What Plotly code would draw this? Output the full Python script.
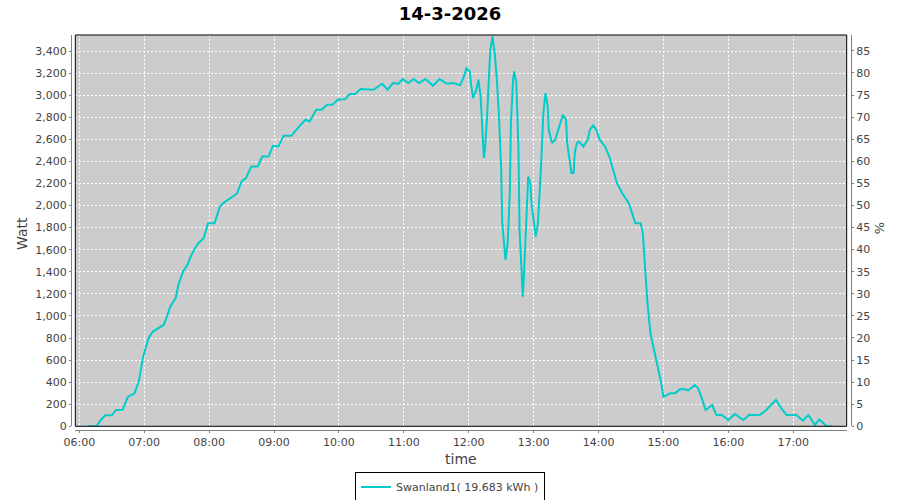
import plotly.graph_objects as go

DAY = "2026-03-14"
times = ["06:08", "06:16", "06:20", "06:24", "06:30", "06:34", "06:40", "06:45", "06:51", "06:55",
         "06:59", "07:04", "07:08", "07:18", "07:21", "07:24", "07:29", "07:32", "07:36", "07:40",
         "07:43", "07:46", "07:50", "07:55", "07:59", "08:05", "08:10", "08:13", "08:22", "08:26",
         "08:30", "08:34", "08:39", "08:45", "08:49", "08:55", "08:59", "09:04", "09:09", "09:16",
         "09:22", "09:29", "09:33", "09:39", "09:44", "09:49", "09:54", "09:59", "10:06", "10:10",
         "10:15", "10:20", "10:32", "10:40", "10:45", "10:50", "10:55", "10:59", "11:04", "11:09",
         "11:14", "11:20", "11:27", "11:33", "11:40", "11:46", "11:52", "11:55", "11:58", "12:01",
         "12:02", "12:04", "12:07", "12:09", "12:11", "12:13", "12:14", "12:15", "12:17", "12:19",
         "12:20", "12:22", "12:24", "12:26", "12:28", "12:30", "12:31", "12:34", "12:36", "12:38",
         "12:39", "12:41", "12:42", "12:44", "12:46", "12:47", "12:50", "12:51", "12:53", "12:55",
         "12:57", "12:58", "13:02", "13:04", "13:07", "13:09", "13:11", "13:13", "13:14", "13:17",
         "13:20", "13:23", "13:27", "13:30", "13:31", "13:35", "13:37", "13:38", "13:40", "13:42",
         "13:46", "13:50", "13:52", "13:55", "13:58", "14:01", "14:06", "14:10", "14:14", "14:17",
         "14:22", "14:28", "14:31", "14:34", "14:39", "14:41", "14:43", "14:45", "14:48", "14:51",
         "14:54", "14:58", "15:00", "15:03", "15:06", "15:11", "15:15", "15:20", "15:23", "15:29",
         "15:32", "15:36", "15:39", "15:45", "15:49", "15:54", "16:00", "16:06", "16:14", "16:19",
         "16:29", "16:35", "16:44", "16:49", "16:54", "17:03", "17:09", "17:14", "17:20", "17:24",
         "17:31", "17:36"]
watts = [0, 0, 60, 100, 100, 148, 150, 268, 298, 404,
         631, 798, 858, 918, 994, 1084, 1160, 1296, 1402, 1462,
         1538, 1598, 1659, 1704, 1840, 1840, 1991, 2022, 2082, 2112,
         2218, 2248, 2354, 2354, 2444, 2444, 2541, 2535, 2632, 2632,
         2702, 2777, 2762, 2868, 2868, 2913, 2913, 2958, 2964, 3010,
         3010, 3055, 3049, 3103, 3049, 3110, 3103, 3146, 3110, 3146,
         3110, 3146, 3085, 3146, 3103, 3110, 3090, 3155, 3245, 3215,
         3110, 2973, 3048, 3140, 2988, 2626, 2430, 2505, 2807, 3230,
         3411, 3532, 3381, 3140, 2807, 2324, 1841, 1508, 1659, 2112,
         2747, 3140, 3215, 3110, 2505, 1780, 1175, 1356, 1810, 2263,
         2203, 2022, 1719, 1840, 2384, 2837, 3019, 2898, 2686, 2566,
         2596, 2686, 2822, 2777, 2566, 2294, 2294, 2475, 2566, 2580,
         2535, 2596, 2686, 2725, 2686, 2596, 2535, 2444, 2294, 2203,
         2112, 2022, 1931, 1840, 1840, 1750, 1447, 1145, 843, 692,
         571, 390, 269, 280, 299, 299, 336, 336, 325, 374,
         345, 239, 148, 193, 102, 102, 57, 111, 57, 102,
         102, 148, 239, 163, 102, 102, 51, 102, 12, 63,
         0, 0]

series_name = "Swanland1( 19.683 kWh )"
title_text = "14-3-2026"
y_ticks = list(range(0, 3401, 200))
y2_ticks = list(range(0, 86, 5))

x_vals = [f"{DAY} {t}" for t in times]

W, H = 900, 500
ML, MR, MT, MB = 71, 49, 35, 70
PW, PH = W - ML - MR, H - MT - MB


def px(x):
    return (x - ML) / PW


def py(y):
    return (H - MB - y) / PH


fig = go.Figure()
fig.add_trace(go.Scatter(x=x_vals, y=watts, mode="lines", name=series_name,
                         line=dict(color="#00cccc", width=2), yaxis="y"))
fig.add_trace(go.Scatter(x=[x_vals[0]], y=[None], mode="lines", showlegend=False,
                         hoverinfo="skip", yaxis="y2"))

axis_font = dict(family="DejaVu Sans", size=11, color="#444444")

fig.update_layout(
    width=W, height=H,
    margin=dict(l=ML, r=MR, t=MT, b=MB),
    paper_bgcolor="white",
    plot_bgcolor="#cccccc",
    title=dict(text=f"<b>{title_text}</b>", x=0.5, xref="container", xanchor="center",
               y=1 - 14 / H, yref="container", yanchor="middle",
               font=dict(family="DejaVu Sans", size=18, color="black")),
    xaxis=dict(type="date", domain=[px(75.3), px(846.7)], anchor="free", position=0,
               range=[f"{DAY} 05:56:18", f"{DAY} 17:49:26"],
               tickformat="%H:%M", dtick=3600000, tick0=f"{DAY} 06:00",
               showline=True, linecolor="#808080", linewidth=1,
               ticks="outside", ticklen=2, tickcolor="#808080",
               showgrid=True, gridcolor="white", griddash="2px,2px", gridwidth=1,
               zeroline=False, tickfont=axis_font),
    yaxis=dict(domain=[py(426.3), 1], anchor="free", position=0,
               range=[0, 3545], tickvals=y_ticks, tickformat=",d",
               showline=True, linecolor="#808080", linewidth=1,
               ticks="outside", ticklen=2, tickcolor="#808080",
               showgrid=True, gridcolor="white", griddash="2px,2px", gridwidth=1,
               zeroline=False, tickfont=axis_font),
    yaxis2=dict(overlaying="y", side="right", anchor="free", position=1,
                range=[0, 88.6], tickvals=y2_ticks,
                showline=True, linecolor="#808080", linewidth=1,
                ticks="outside", ticklen=2, tickcolor="#808080",
                showgrid=False, zeroline=False, tickfont=axis_font),
    showlegend=True,
    legend=dict(x=0.5, xref="container", xanchor="center",
                y=1 - 487 / H, yref="container", yanchor="middle",
                orientation="h", bordercolor="black", borderwidth=1,
                bgcolor="white", itemwidth=30,
                font=dict(family="DejaVu Sans", size=11, color="#444444")),
    shapes=[dict(type="rect", xref="x domain", yref="y domain", x0=0, x1=1, y0=0, y1=1,
                 line=dict(color="black", width=1), fillcolor="rgba(0,0,0,0)", layer="above")],
    annotations=[
        dict(text="Watt", x=px(22), y=py(234), xref="paper", yref="paper", showarrow=False,
             xanchor="center", yanchor="middle", textangle=-90,
             font=dict(family="DejaVu Sans", size=14, color="#444444")),
        dict(text="time", x=px(461), y=py(459), xref="paper", yref="paper", showarrow=False,
             xanchor="center", yanchor="middle",
             font=dict(family="DejaVu Sans", size=14, color="#444444")),
        dict(text="%", x=px(880), y=py(228), xref="paper", yref="paper", showarrow=False,
             xanchor="center", yanchor="middle", textangle=90,
             font=dict(family="DejaVu Sans", size=13, color="#444444")),
    ],
)

fig.write_html("out.html", config={"displayModeBar": False})

with open("out.html", "r", encoding="utf-8") as f:
    html = f.read()
html = html.replace("<body>", '<body style="margin:0;padding:0;overflow:hidden">', 1)
with open("out.html", "w", encoding="utf-8") as f:
    f.write(html)
